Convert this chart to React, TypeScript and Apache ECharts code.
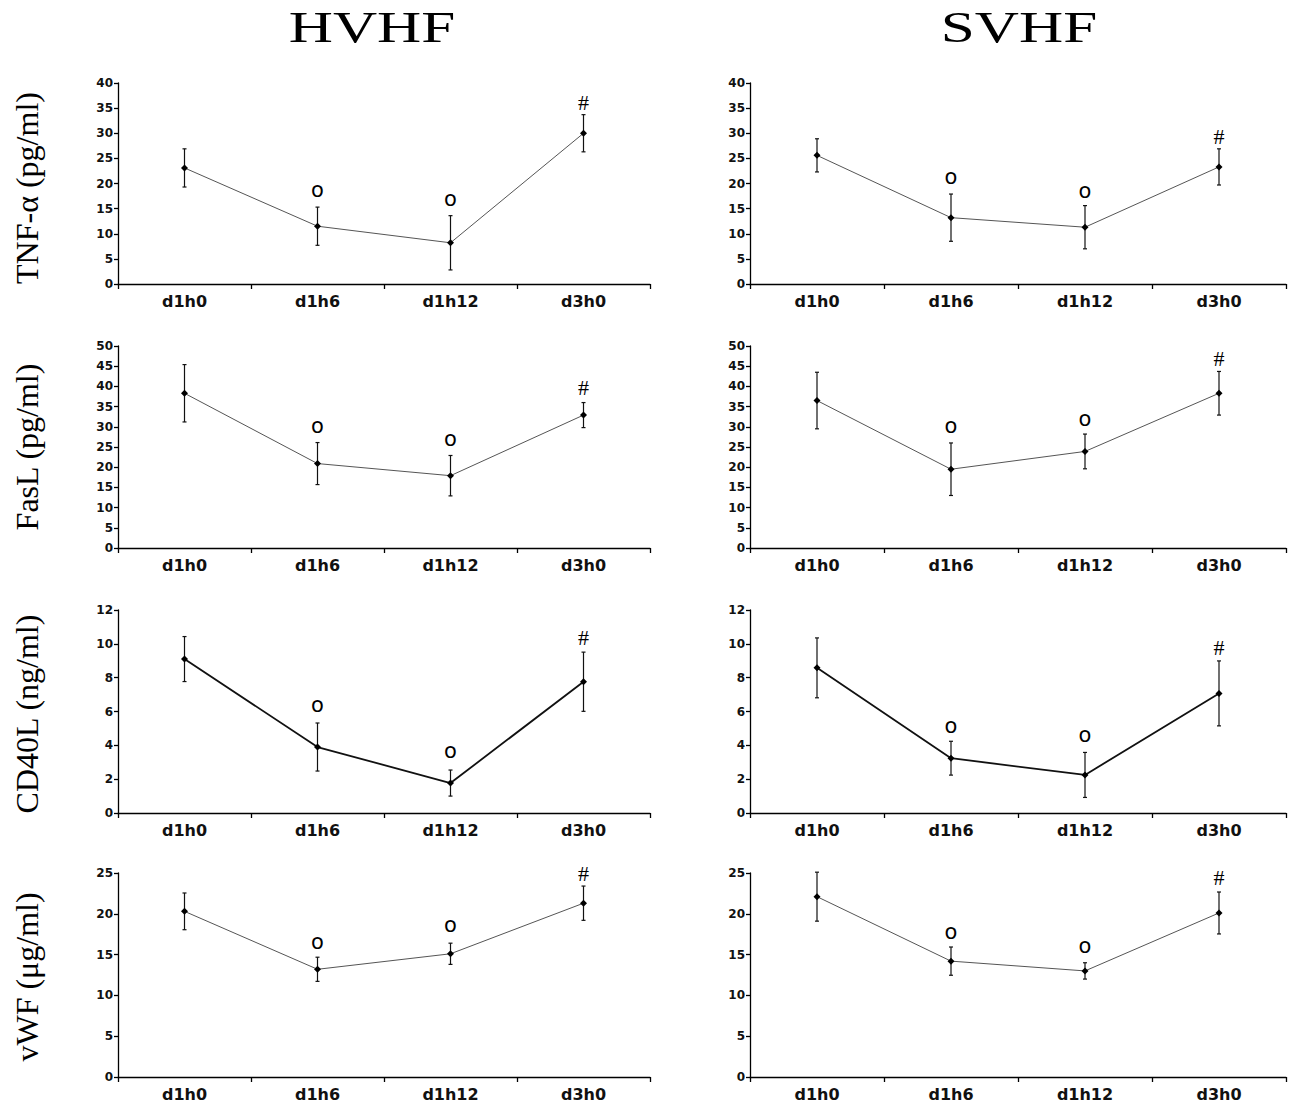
import React, { useEffect, useRef } from "react";
import * as echarts from "echarts";

const categories = ["d1h0", "d1h6", "d1h12", "d3h0"];
const groupTitles = ["HVHF", "SVHF"];
const measureLabels = ["TNF-α (pg/ml)", "FasL (pg/ml)", "CD40L (ng/ml)", "vWF (μg/ml)"];
const yMax = [40, 50, 12, 25];
const yInterval = [5, 5, 2, 5];
const markSymbols = ["", "o", "o", "#"];

// TNF-α
const tnfHVHF = [23.1, 11.5, 8.2, 30.0];
const tnfHVHFErr = [3.8, 3.8, 5.4, 3.7];
const tnfHVHFMarks = [null, 18.7, 17.0, 36.2];
const tnfSVHF = [25.6, 13.2, 11.3, 23.3];
const tnfSVHFErr = [3.3, 4.7, 4.3, 3.6];
const tnfSVHFMarks = [null, 21.2, 18.6, 29.3];
// FasL
const faslHVHF = [38.3, 20.9, 17.9, 32.9];
const faslHVHFErr = [7.1, 5.2, 5.0, 3.1];
const faslHVHFMarks = [null, 30.3, 27.1, 39.7];
const faslSVHF = [36.5, 19.5, 23.9, 38.3];
const faslSVHFErr = [7.0, 6.5, 4.3, 5.4];
const faslSVHFMarks = [null, 30.2, 32.0, 46.8];
// CD40L
const cd40lHVHF = [9.1, 3.9, 1.77, 7.76];
const cd40lHVHFErr = [1.33, 1.42, 0.77, 1.75];
const cd40lHVHFMarks = [null, 6.4, 3.64, 10.37];
const cd40lSVHF = [8.58, 3.24, 2.25, 7.07];
const cd40lSVHFErr = [1.77, 1.0, 1.33, 1.92];
const cd40lSVHFMarks = [null, 5.17, 4.62, 9.81];
// vWF
const vwfHVHF = [20.3, 13.2, 15.1, 21.3];
const vwfHVHFErr = [2.25, 1.48, 1.3, 2.1];
const vwfHVHFMarks = [null, 16.5, 18.6, 24.9];
const vwfSVHF = [22.1, 14.2, 13.0, 20.1];
const vwfSVHFErr = [3.0, 1.73, 1.0, 2.57];
const vwfSVHFMarks = [null, 17.8, 16.06, 24.5];

const panels = [
  [tnfHVHF, tnfHVHFErr, tnfHVHFMarks, tnfSVHF, tnfSVHFErr, tnfSVHFMarks],
  [faslHVHF, faslHVHFErr, faslHVHFMarks, faslSVHF, faslSVHFErr, faslSVHFMarks],
  [cd40lHVHF, cd40lHVHFErr, cd40lHVHFMarks, cd40lSVHF, cd40lSVHFErr, cd40lSVHFMarks],
  [vwfHVHF, vwfHVHFErr, vwfHVHFMarks, vwfSVHF, vwfSVHFErr, vwfSVHFMarks],
];

const colLeft = [118, 750];
const colWidth = [532, 536];
const rowTop = [83, 346, 610, 873];
const rowHeight = [201, 202, 203, 204];
const titleX = [372, 1019];
const yTitleY = [188, 447, 714, 977];

const SANS = '"DejaVu Sans", "Liberation Sans", Arial, sans-serif';
const SERIF = '"Liberation Serif", "Times New Roman", serif';

export default function App() {
  const ref = useRef<HTMLDivElement>(null);
  useEffect(() => {
    document.body.style.margin = "0";
    const chart = echarts.init(ref.current!, null, { renderer: "svg" });
    const grids: any[] = [];
    const xAxes: any[] = [];
    const yAxes: any[] = [];
    const series: any[] = [];
    let idx = 0;
    for (let r = 0; r < 4; r++) {
      for (let c = 0; c < 2; c++) {
        const values = panels[r][c * 3] as number[];
        const errs = panels[r][c * 3 + 1] as number[];
        const marks = panels[r][c * 3 + 2] as (number | null)[];
        grids.push({ left: colLeft[c], width: colWidth[c], top: rowTop[r], height: rowHeight[r] });
        xAxes.push({
          type: "category",
          gridIndex: idx,
          data: categories,
          boundaryGap: true,
          axisLine: { lineStyle: { color: "#000", width: 1.3 } },
          axisTick: { show: true, length: 5, interval: 0, alignWithLabel: false, lineStyle: { color: "#000", width: 1.3 } },
          axisLabel: { fontSize: 16, fontWeight: "bold", color: "#111", margin: 9, fontFamily: SANS, interval: 0 },
          splitLine: { show: false },
        });
        yAxes.push({
          type: "value",
          gridIndex: idx,
          min: 0,
          max: yMax[r],
          interval: yInterval[r],
          axisLine: { show: true, lineStyle: { color: "#000", width: 1.3 } },
          axisTick: { show: true, length: 4, lineStyle: { color: "#000", width: 1.3 } },
          axisLabel: { fontSize: 12, fontWeight: "bold", color: "#111", margin: 5, fontFamily: SANS },
          splitLine: { show: false },
        });
        const thick = r === 2;
        series.push({
          type: "line",
          xAxisIndex: idx,
          yAxisIndex: idx,
          data: values,
          symbol: "diamond",
          symbolSize: 7,
          itemStyle: { color: "#000" },
          lineStyle: { color: thick ? "#111" : "#555", width: thick ? 1.8 : 1 },
          z: 3,
        });
        series.push({
          type: "custom",
          xAxisIndex: idx,
          yAxisIndex: idx,
          data: values.map((v, i) => [i, v - errs[i], v + errs[i]]),
          renderItem: (params: any, api: any) => {
            const lo = api.coord([api.value(0), api.value(1)]);
            const hi = api.coord([api.value(0), api.value(2)]);
            const st = { stroke: "#111", lineWidth: 1.2 };
            return {
              type: "group",
              children: [
                { type: "line", shape: { x1: lo[0], y1: lo[1], x2: hi[0], y2: hi[1] }, style: st },
                { type: "line", shape: { x1: hi[0] - 2, y1: hi[1], x2: hi[0] + 2, y2: hi[1] }, style: st },
                { type: "line", shape: { x1: lo[0] - 2, y1: lo[1], x2: lo[0] + 2, y2: lo[1] }, style: st },
              ],
            };
          },
          z: 2,
        });
        series.push({
          type: "custom",
          xAxisIndex: idx,
          yAxisIndex: idx,
          data: marks.map((m, i) => (m === null ? null : [i, m, i])).filter((d) => d !== null),
          renderItem: (params: any, api: any) => {
            const p = api.coord([api.value(0), api.value(1)]);
            const sym = markSymbols[api.value(2)];
            const isHash = sym === "#";
            return {
              type: "text",
              x: p[0],
              y: p[1],
              style: {
                text: sym,
                font: isHash ? `22px ${SERIF}` : `21px "DejaVu Sans", sans-serif`,
                fill: "#000",
                textAlign: "center",
                align: "center",
                textVerticalAlign: "middle",
                verticalAlign: "middle",
              },
            };
          },
          z: 4,
        });
        idx++;
      }
    }
    const graphic: any[] = [];
    groupTitles.forEach((t, i) => {
      graphic.push({
        type: "text",
        x: titleX[i],
        y: 28,
        scaleX: 1.39,
        style: {
          text: t,
          font: `44px ${SERIF}`,
          fill: "#000",
          textAlign: "center",
          align: "center",
          textVerticalAlign: "middle",
          verticalAlign: "middle",
        },
      });
    });
    measureLabels.forEach((t, i) => {
      graphic.push({
        type: "text",
        x: 27,
        y: yTitleY[i],
        rotation: Math.PI / 2,
        style: {
          text: t,
          font: `32px ${SERIF}`,
          fill: "#000",
          textAlign: "center",
          align: "center",
          textVerticalAlign: "middle",
          verticalAlign: "middle",
        },
      });
    });
    chart.setOption({
      animation: false,
      backgroundColor: "#fff",
      grid: grids,
      xAxis: xAxes,
      yAxis: yAxes,
      series,
      graphic,
    });
    return () => chart.dispose();
  }, []);
  return <div ref={ref} style={{ width: 1291, height: 1103 }} />;
}
